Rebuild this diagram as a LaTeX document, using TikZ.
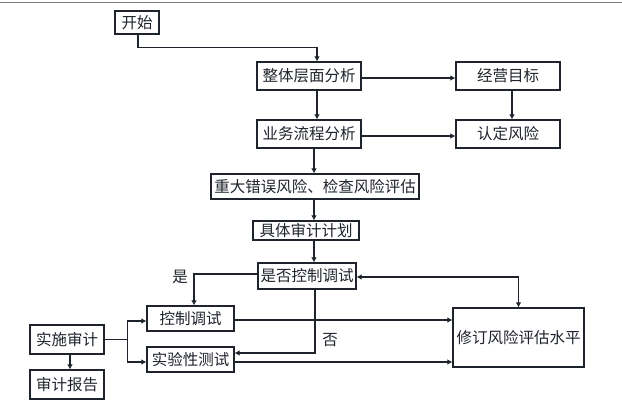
\documentclass[tikz,border=0pt]{standalone}
\usepackage{fontspec}
\setmainfont{Noto Sans CJK SC}
\usetikzlibrary{arrows.meta}
\definecolor{ink}{HTML}{1F232B}
\begin{document}
\begin{tikzpicture}[x=1pt,y=-1pt,
  box/.style={draw=ink,line width=1.1pt,inner sep=0pt,font=\fontsize{15.5}{17}\selectfont,text=ink},
  arr/.style={draw=ink,line width=1.1pt,-{Latex[length=5pt,width=5.5pt]}},
  biarr/.style={draw=ink,line width=1.1pt,{Latex[length=5pt,width=5.5pt]}-{Latex[length=5pt,width=5.5pt]}},
  ln/.style={draw=ink,line width=1.1pt},
  lbl/.style={font=\fontsize{15.5}{17}\selectfont,text=ink,inner sep=0pt}]
\useasboundingbox (0,0) rectangle (622,402);
\draw[gray,line width=1pt] (0,2) -- (622,2);
\node[box,minimum width=44pt,minimum height=23pt] (start) at (137,22.5) {开始};
\node[box,minimum width=104pt,minimum height=28pt] (a1) at (309,76) {整体层面分析};
\node[box,minimum width=104pt,minimum height=28pt] (a2) at (508,76) {经营目标};
\node[box,minimum width=104pt,minimum height=28pt] (b1) at (309,134) {业务流程分析};
\node[box,minimum width=104pt,minimum height=28pt] (b2) at (508,134) {认定风险};
\node[box,minimum width=208pt,minimum height=25pt] (c) at (315,186.5) {重大错误风险、检查风险评估};
\node[box,minimum width=106pt,minimum height=19pt] (d) at (306,230.5) {具体审计计划};
\node[box,minimum width=98pt,minimum height=26pt] (e) at (307,276) {是否控制调试};
\node[box,minimum width=87pt,minimum height=25pt] (f) at (190.5,318.5) {控制调试};
\node[box,minimum width=87pt,minimum height=25pt] (g) at (190.5,359.5) {实验性测试};
\node[box,minimum width=74pt,minimum height=29pt] (h) at (67,339.5) {实施审计};
\node[box,minimum width=74pt,minimum height=29pt] (i) at (67,384.5) {审计报告};
\node[box,minimum width=131pt,minimum height=59pt] (j) at (518.5,337.5) {修订风险评估水平};
\node[lbl] (yes) at (180,277) {是};
\node[lbl] (no) at (330,340) {否};
% connectors
\draw[arr] ([xshift=1pt]start.south) -- ++(0,13) -| ([xshift=8pt]a1.north);
\draw[arr] ([xshift=8pt]a1.south) -- ([xshift=8pt]b1.north);
\draw[arr] ([xshift=5pt]b1.south) -- ([xshift=-1pt]c.north);
\draw[arr] ([xshift=-1pt]c.south) -- ([xshift=8pt]d.north);
\draw[arr] ([xshift=8pt]d.south) -- ([xshift=7pt]e.north);
\draw[arr] ([yshift=-2pt]a1.east) -- ([yshift=-2pt]a2.west);
\draw[arr] ([yshift=-2pt]b1.east) -- ([yshift=-2pt]b2.west);
\draw[arr] ([xshift=4pt]a2.south) -- ([xshift=4pt]b2.north);
\draw[arr] ([yshift=2pt]e.west) -| ([xshift=3.5pt]f.north);
\draw[biarr] ([yshift=-1pt]e.east) -| (j.north);
\draw[arr] ([xshift=8pt]e.south) |- ([yshift=6.5pt]g.east);
\draw[arr] ([yshift=-1.5pt]f.east) -- ([yshift=-1.5pt]f.east -| j.west);
\draw[arr] ([yshift=-2.5pt]g.east) -- ([yshift=-2.5pt]g.east -| j.west);
\draw[ln] (h.east) -- ++(23,0) coordinate (hb);
\draw[arr] (hb) |- ([yshift=-2.5pt]f.west);
\draw[arr] (hb) |- ([yshift=-2.5pt]g.west);
\draw[arr] ([xshift=3pt]h.south) -- ([xshift=3pt]i.north);
\end{tikzpicture}
\end{document}
